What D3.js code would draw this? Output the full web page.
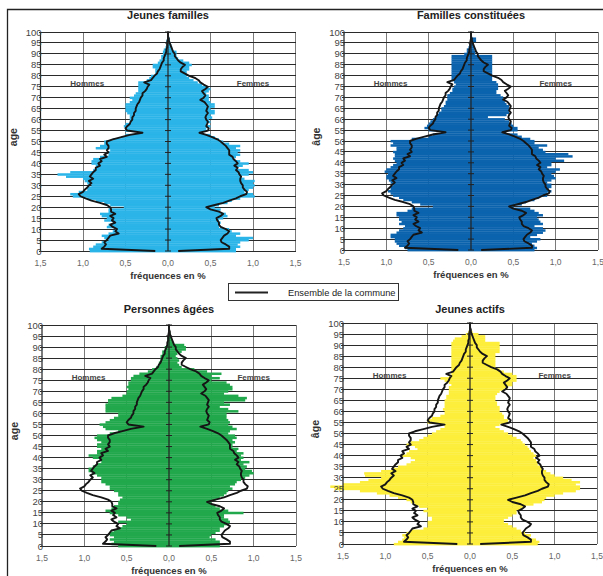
<!DOCTYPE html>
<html>
<head>
<meta charset="utf-8">
<script src="https://cdn.jsdelivr.net/npm/d3@7"></script>
<style>
  body { margin: 0; background: #fff; }
  svg { display: block; font-family: "Liberation Sans", Arial, sans-serif; }
  .grid-v { stroke: #7a7a7a; stroke-width: 1px; shape-rendering: crispEdges; }
  .grid-h { stroke: #2a2a2a; stroke-width: 1px; shape-rendering: crispEdges; }
  .axis-line { stroke: #222; stroke-width: 1.2px; }
  .commune { fill: none; stroke: #151515; stroke-width: 1.9px; stroke-linejoin: round; }
  .title { font-size: 11px; font-weight: bold; fill: #222; text-anchor: middle; }
  .age-tick { font-size: 9.5px; fill: #444; text-anchor: end; }
  .freq-tick { font-size: 8.5px; fill: #666; text-anchor: middle; }
  .axis-title { font-size: 9.5px; font-weight: bold; fill: #333; text-anchor: middle; }
  .sex-label { font-size: 8px; font-weight: bold; fill: #444; text-anchor: middle; }
</style>
</head>
<body>
<svg id="chart" width="603" height="576"></svg>
<script>
const ages = d3.range(0, 101);
const ageTicks = d3.range(0, 101, 5);
const freqTicks = [-1.5, -1.0, -0.5, 0, 0.5, 1.0, 1.5];

// Ensemble de la commune (same line on every pyramid)
const communeHommes = [
  0.15, 0.78, 0.75, 0.73, 0.75, 0.72, 0.70, 0.68, 0.58, 0.62,
  0.60, 0.65, 0.68, 0.62, 0.66, 0.64, 0.68, 0.62, 0.67, 0.67,
  0.68, 0.72, 0.80, 0.90, 0.97, 1.03, 1.05, 1.00, 0.98, 0.95,
  0.93, 0.90, 0.93, 0.88, 0.92, 0.90, 0.88, 0.85, 0.85, 0.80,
  0.82, 0.78, 0.80, 0.72, 0.75, 0.70, 0.72, 0.70, 0.70, 0.72,
  0.72, 0.65, 0.55, 0.45, 0.30, 0.48, 0.50, 0.48, 0.45, 0.44,
  0.42, 0.42, 0.40, 0.40, 0.38, 0.38, 0.37, 0.36, 0.34, 0.33,
  0.32, 0.30, 0.30, 0.27, 0.25, 0.24, 0.22, 0.28, 0.20, 0.18,
  0.16, 0.13, 0.12, 0.10, 0.09, 0.08, 0.07, 0.05, 0.05, 0.04,
  0.03, 0.02, 0.02, 0.01, 0.01, 0.01, 0.005, 0, 0, 0,
  0
];
const communeFemmes = [
  0.12, 0.72, 0.72, 0.68, 0.63, 0.62, 0.64, 0.66, 0.70, 0.72,
  0.68, 0.62, 0.60, 0.60, 0.58, 0.57, 0.62, 0.65, 0.60, 0.50,
  0.45, 0.55, 0.65, 0.72, 0.80, 0.85, 0.92, 0.93, 0.90, 0.88,
  0.88, 0.86, 0.85, 0.85, 0.86, 0.84, 0.83, 0.80, 0.82, 0.78,
  0.82, 0.80, 0.77, 0.76, 0.72, 0.72, 0.72, 0.70, 0.68, 0.65,
  0.62, 0.58, 0.52, 0.45, 0.37, 0.47, 0.48, 0.45, 0.46, 0.47,
  0.45, 0.44, 0.45, 0.47, 0.45, 0.46, 0.47, 0.45, 0.43, 0.38,
  0.42, 0.44, 0.42, 0.40, 0.44, 0.47, 0.42, 0.38, 0.36, 0.32,
  0.25, 0.20, 0.15, 0.15, 0.17, 0.20, 0.15, 0.12, 0.10, 0.08,
  0.08, 0.06, 0.05, 0.04, 0.03, 0.02, 0.01, 0.01, 0, 0,
  0
];

// Jeunes familles
const jfHommes = [
  0.92, 0.93, 0.88, 0.85, 0.78, 0.70, 0.75, 0.78, 0.70, 0.65,
  0.62, 0.72, 0.70, 0.65, 0.75, 0.72, 0.78, 0.80, 0.70, 0.70,
  0.52, 0.68, 0.75, 0.85, 0.95, 1.12, 1.15, 1.05, 0.95, 0.95,
  0.90, 0.95, 0.98, 1.00, 1.20, 1.30, 1.15, 0.88, 0.85, 0.85,
  0.90, 0.90, 0.88, 0.80, 0.70, 0.70, 0.68, 0.85, 0.80, 0.75,
  0.75, 0.65, 0.55, 0.50, 0.35, 0.50, 0.50, 0.52, 0.50, 0.45,
  0.45, 0.45, 0.45, 0.48, 0.50, 0.50, 0.50, 0.50, 0.45, 0.42,
  0.45, 0.40, 0.38, 0.35, 0.35, 0.35, 0.35, 0.35, 0.25, 0.22,
  0.20, 0.15, 0.15, 0.15, 0.18, 0.18, 0.12, 0.10, 0.08, 0.08,
  0.06, 0.06, 0.05, 0.03, 0.02, 0.01, 0.02, 0.01, 0.01, 0.01,
  0
];
const jfFemmes = [
  0.80, 0.80, 0.85, 0.82, 0.85, 0.95, 1.00, 0.80, 0.85, 0.75,
  0.72, 0.60, 0.60, 0.62, 0.60, 0.65, 0.70, 0.68, 0.60, 0.62,
  0.55, 0.60, 0.70, 0.75, 0.85, 1.02, 1.00, 0.90, 0.95, 1.00,
  1.02, 1.00, 1.02, 0.90, 0.85, 0.95, 1.00, 0.95, 0.80, 0.88,
  0.95, 0.85, 0.78, 0.80, 0.85, 0.82, 0.85, 0.80, 0.85, 0.72,
  0.65, 0.60, 0.55, 0.50, 0.40, 0.45, 0.45, 0.50, 0.45, 0.50,
  0.48, 0.52, 0.50, 0.55, 0.55, 0.50, 0.55, 0.55, 0.50, 0.48,
  0.48, 0.48, 0.45, 0.48, 0.50, 0.45, 0.40, 0.35, 0.30, 0.25,
  0.22, 0.22, 0.22, 0.25, 0.25, 0.28, 0.25, 0.18, 0.12, 0.10,
  0.10, 0.10, 0.05, 0.05, 0.04, 0.03, 0.02, 0.02, 0.01, 0,
  0
];

// Familles constituées
const fcHommes = [
  0.75, 0.78, 0.85, 0.88, 0.90, 0.90, 0.95, 0.95, 0.88, 0.85,
  0.80, 0.78, 0.85, 0.82, 0.85, 0.85, 0.88, 0.88, 0.75, 0.70,
  0.45, 0.60, 0.70, 0.80, 0.85, 0.92, 0.95, 0.98, 0.95, 0.95,
  0.92, 0.95, 0.97, 1.00, 1.00, 0.98, 1.02, 1.00, 0.95, 0.92,
  0.88, 0.90, 0.92, 0.90, 0.90, 0.92, 0.88, 0.88, 0.95, 0.92,
  0.95, 0.70, 0.50, 0.45, 0.35, 0.50, 0.55, 0.52, 0.50, 0.48,
  0.45, 0.42, 0.40, 0.38, 0.35, 0.35, 0.32, 0.30, 0.30, 0.28,
  0.28, 0.28, 0.25, 0.22, 0.22, 0.20, 0.18, 0.20, 0.23, 0.23,
  0.23, 0.23, 0.23, 0.23, 0.23, 0.23, 0.23, 0.23, 0.23, 0.23,
  0.08, 0.05, 0.05, 0.03, 0.02, 0.01, 0.01, 0.01, 0.01, 0,
  0
];
const fcFemmes = [
  0.75, 0.78, 0.75, 0.72, 0.78, 0.82, 0.70, 0.78, 0.85, 0.88,
  0.85, 0.75, 0.85, 0.82, 0.80, 0.78, 0.85, 0.80, 0.75, 0.70,
  0.50, 0.60, 0.65, 0.75, 0.80, 0.90, 0.90, 0.95, 0.92, 0.95,
  0.95, 0.90, 0.95, 1.00, 0.98, 0.95, 1.00, 1.05, 0.90, 0.95,
  0.95, 1.10, 1.00, 1.20, 1.15, 0.88, 0.85, 0.80, 0.90, 0.75,
  0.75, 0.70, 0.60, 0.55, 0.40, 0.55, 0.55, 0.50, 0.48, 0.45,
  0.40, 0.20, 0.42, 0.45, 0.45, 0.45, 0.45, 0.42, 0.40, 0.38,
  0.38, 0.35, 0.30, 0.30, 0.32, 0.32, 0.32, 0.30, 0.25, 0.25,
  0.25, 0.25, 0.25, 0.25, 0.25, 0.25, 0.25, 0.25, 0.25, 0.25,
  0.05, 0.05, 0.04, 0.04, 0.03, 0.03, 0.06, 0.06, 0.01, 0,
  0
];

// Personnes âgées
const paHommes = [
  0.60, 0.68, 0.65, 0.70, 0.65, 0.70, 0.70, 0.65, 0.60, 0.55,
  0.50, 0.60, 0.45, 0.50, 0.60, 0.70, 0.75, 0.68, 0.65, 0.60,
  0.60, 0.58, 0.55, 0.60, 0.60, 0.65, 0.70, 0.70, 0.75, 0.80,
  0.80, 0.80, 0.85, 0.90, 0.95, 0.95, 0.90, 0.85, 0.80, 0.82,
  0.90, 0.95, 0.85, 0.85, 0.80, 0.85, 0.85, 0.80, 0.85, 0.88,
  0.85, 0.70, 0.60, 0.75, 0.78, 0.82, 0.75, 0.70, 0.65, 0.60,
  0.60, 0.75, 0.75, 0.75, 0.75, 0.72, 0.72, 0.68, 0.55, 0.50,
  0.50, 0.48, 0.50, 0.48, 0.48, 0.45, 0.45, 0.42, 0.35, 0.25,
  0.20, 0.15, 0.12, 0.12, 0.10, 0.10, 0.10, 0.08, 0.08, 0.05,
  0.05, 0.02, 0.02, 0.02, 0.02, 0.01, 0.01, 0.01, 0.01, 0,
  0
];
const paFemmes = [
  0.60, 0.60, 0.60, 0.55, 0.48, 0.50, 0.55, 0.60, 0.60, 0.65,
  0.70, 0.72, 0.70, 0.65, 0.65, 0.88, 0.70, 0.60, 0.55, 0.50,
  0.50, 0.55, 0.60, 0.65, 0.68, 0.70, 0.75, 0.72, 0.78, 0.80,
  0.85, 0.90, 0.95, 1.00, 0.98, 0.90, 0.92, 0.88, 0.95, 0.85,
  0.88, 0.85, 0.88, 0.80, 0.82, 0.75, 0.75, 0.78, 0.75, 0.80,
  0.78, 0.70, 0.72, 0.80, 0.75, 0.70, 0.72, 0.70, 0.68, 0.68,
  0.68, 0.82, 0.70, 0.60, 0.72, 0.65, 0.90, 0.92, 0.82, 0.65,
  0.70, 0.75, 0.75, 0.72, 0.68, 0.50, 0.60, 0.50, 0.62, 0.45,
  0.30, 0.15, 0.12, 0.10, 0.12, 0.10, 0.08, 0.10, 0.15, 0.20,
  0.20, 0.18, 0.05, 0.04, 0.03, 0.02, 0.02, 0.01, 0, 0,
  0
];

// Jeunes actifs
const jaHommes = [
  0.90, 0.85, 0.80, 0.78, 0.80, 0.75, 0.70, 0.55, 0.50, 0.50,
  0.50, 0.45, 0.45, 0.50, 0.50, 0.55, 0.50, 0.60, 0.65, 0.70,
  0.75, 0.85, 0.95, 1.10, 1.30, 1.60, 1.65, 1.50, 1.30, 1.20,
  1.05, 1.24, 1.25, 1.05, 0.90, 0.85, 0.75, 0.70, 0.65, 0.70,
  0.80, 0.75, 0.72, 0.62, 0.65, 0.75, 0.70, 0.60, 0.55, 0.50,
  0.45, 0.40, 0.35, 0.30, 0.30, 0.50, 0.50, 0.45, 0.35, 0.30,
  0.30, 0.32, 0.30, 0.30, 0.30, 0.30, 0.28, 0.28, 0.25, 0.25,
  0.25, 0.25, 0.22, 0.25, 0.30, 0.35, 0.25, 0.22, 0.22, 0.22,
  0.22, 0.22, 0.22, 0.22, 0.22, 0.22, 0.22, 0.22, 0.22, 0.22,
  0.22, 0.22, 0.20, 0.18, 0.10, 0.05, 0.02, 0.01, 0, 0,
  0
];
const jaFemmes = [
  0.80, 0.82, 0.78, 0.70, 0.72, 0.65, 0.60, 0.55, 0.50, 0.45,
  0.40, 0.40, 0.45, 0.50, 0.55, 0.55, 0.60, 0.65, 0.75, 0.85,
  0.88, 0.90, 1.00, 1.10, 1.25, 1.30, 1.30, 1.25, 1.30, 1.20,
  1.10, 1.00, 0.95, 0.90, 0.85, 0.85, 0.80, 0.80, 0.78, 0.75,
  0.78, 0.75, 0.72, 0.70, 0.68, 0.65, 0.62, 0.60, 0.55, 0.50,
  0.45, 0.40, 0.35, 0.30, 0.35, 0.45, 0.45, 0.40, 0.40, 0.38,
  0.35, 0.35, 0.35, 0.32, 0.32, 0.30, 0.30, 0.30, 0.32, 0.35,
  0.40, 0.45, 0.50, 0.50, 0.55, 0.55, 0.55, 0.50, 0.40, 0.35,
  0.30, 0.30, 0.30, 0.30, 0.30, 0.30, 0.30, 0.35, 0.35, 0.35,
  0.35, 0.35, 0.18, 0.18, 0.18, 0.10, 0.03, 0.01, 0, 0,
  0
];

const panels = [
  { title: 'Jeunes familles', ageLabel: 'age', color: '#2ab4e8',
    hommes: jfHommes, femmes: jfFemmes, x: [40.5, 295.5], y: [251, 32], top: 15 },
  { title: 'Familles constituées', ageLabel: 'âge', color: '#0b63ae',
    hommes: fcHommes, femmes: fcFemmes, x: [344, 598], y: [250, 32], top: 15 },
  { title: 'Personnes âgées', ageLabel: 'age', color: '#22a84c',
    hommes: paHommes, femmes: paFemmes, x: [42, 296], y: [546, 325], top: 309 },
  { title: 'Jeunes actifs', ageLabel: 'âge', color: '#fcee3a',
    hommes: jaHommes, femmes: jaFemmes, x: [343, 597], y: [544, 323], top: 309 }
];

const svg = d3.select('#chart');
const fmtFreq = d => d3.format('.1f')(Math.abs(d)).replace('.', ',');

// outer frame (left and top edges only)
svg.append('path')
  .attr('d', 'M7.5,576 V9.5 H603')
  .attr('fill', 'none')
  .attr('stroke', '#222')
  .attr('stroke-width', 1.3);

panels.forEach(p => {
  const x = d3.scaleLinear().domain([-1.5, 1.5]).range(p.x);
  const y = d3.scaleLinear().domain([0, 100]).range(p.y);
  const g = svg.append('g');
  const barH = Math.abs(y(0) - y(1));

  // vertical grid
  g.selectAll('.grid-v')
    .data(freqTicks.filter(d => d !== 0 && d !== -1.5))
    .enter().append('line')
    .attr('class', 'grid-v')
    .attr('x1', d => x(d)).attr('x2', d => x(d))
    .attr('y1', y(0)).attr('y2', y(100));

  // horizontal grid, every 5 years
  g.selectAll('.grid-h')
    .data(ageTicks)
    .enter().append('line')
    .attr('class', 'grid-h')
    .attr('x1', x(-1.5) - 2).attr('x2', x(1.5))
    .attr('y1', d => y(d)).attr('y2', d => y(d));

  // bars
  g.selectAll('.bar-h')
    .data(ages)
    .enter().append('rect')
    .attr('fill', p.color)
    .attr('x', a => x(-p.hommes[a]))
    .attr('width', a => x(0) - x(-p.hommes[a]))
    .attr('y', a => y(a + 0.5))
    .attr('height', barH + 0.3);

  g.selectAll('.bar-f')
    .data(ages)
    .enter().append('rect')
    .attr('fill', p.color)
    .attr('x', x(0))
    .attr('width', a => x(p.femmes[a]) - x(0))
    .attr('y', a => y(a + 0.5))
    .attr('height', barH + 0.3);

  // commune line
  const line = d3.line().x(d => x(d[0])).y(d => y(d[1]));
  g.append('path').attr('class', 'commune')
    .attr('d', line(ages.map(a => [-communeHommes[a], a])));
  g.append('path').attr('class', 'commune')
    .attr('d', line(ages.map(a => [communeFemmes[a], a])));

  // centre axis with ticks
  g.append('line').attr('class', 'axis-line')
    .attr('x1', x(0)).attr('x2', x(0))
    .attr('y1', y(0)).attr('y2', y(100) - 1);
  g.selectAll('.ctick')
    .data(ageTicks)
    .enter().append('line')
    .attr('stroke', '#222')
    .attr('x1', x(0) - 3).attr('x2', x(0) + 3)
    .attr('y1', d => y(d)).attr('y2', d => y(d));

  // left axis
  g.append('line').attr('class', 'axis-line')
    .attr('x1', x(-1.5)).attr('x2', x(-1.5))
    .attr('y1', y(0)).attr('y2', y(100));

  g.selectAll('.age-tick')
    .data(ageTicks)
    .enter().append('text')
    .attr('class', 'age-tick')
    .attr('x', x(-1.5) + 1)
    .attr('y', d => y(d) + 3.5)
    .text(d => d);

  g.selectAll('.freq-tick')
    .data(freqTicks)
    .enter().append('text')
    .attr('class', 'freq-tick')
    .attr('x', d => x(d))
    .attr('y', y(0) + 15)
    .text(fmtFreq);

  g.append('text').attr('class', 'axis-title')
    .attr('x', x(0)).attr('y', y(0) + 28)
    .text('fréquences en %');

  g.append('text').attr('class', 'title')
    .attr('x', x(0)).attr('y', p.top + 4)
    .text(p.title);

  g.append('text').attr('class', 'axis-title')
    .attr('transform', `translate(${x(-1.5) - 24},${y(52)}) rotate(-90)`)
    .style('font-size', '10.5px')
    .text(p.ageLabel);

  g.append('text').attr('class', 'sex-label')
    .attr('x', x(-0.95)).attr('y', y(76.5) + 3)
    .text('Hommes');
  g.append('text').attr('class', 'sex-label')
    .attr('x', x(1.0)).attr('y', y(76.5) + 3)
    .text('Femmes');
});

// legend
const legend = svg.append('g').attr('transform', 'translate(228,283)');
legend.append('rect')
  .attr('x', 0.5).attr('y', 0.5)
  .attr('width', 170).attr('height', 17)
  .attr('fill', '#fff').attr('stroke', '#333');
legend.append('line')
  .attr('x1', 7).attr('x2', 40).attr('y1', 9.5).attr('y2', 9.5)
  .attr('stroke', '#222').attr('stroke-width', 2);
legend.append('text')
  .attr('x', 60).attr('y', 12.5)
  .style('font-size', '9.3px').attr('fill', '#222')
  .text('Ensemble de la commune');
</script>
</body>
</html>
